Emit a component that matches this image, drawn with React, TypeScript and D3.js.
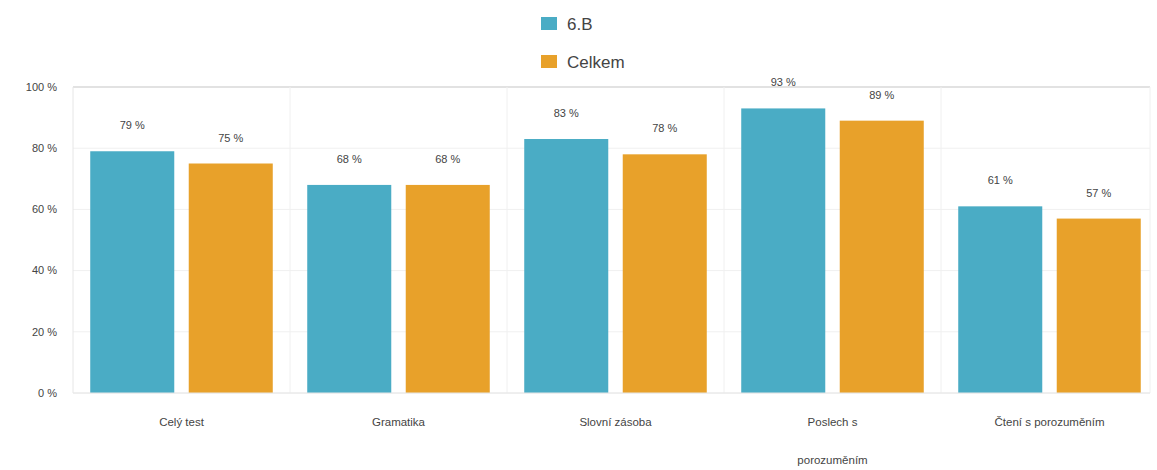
import React from "react";
import * as d3 from "d3";

const categories: string[][] = [
  ["Celý test"],
  ["Gramatika"],
  ["Slovní zásoba"],
  ["Poslech s", "porozuměním"],
  ["Čtení s porozuměním"],
];
const seriesNames = ["6.B", "Celkem"];
const values6B = [79, 68, 83, 93, 61];
const valuesCelkem = [75, 68, 78, 89, 57];
const yTicks = [0, 20, 40, 60, 80, 100];
const colors = ["#4aacc5", "#e8a12a"];

export default function App() {
  const W = 1157;
  const H = 470;
  const left = 73;
  const right = 1158;
  const frameRight = 1150;
  const top = 87;
  const bottom = 393;
  const x0 = d3
    .scaleBand<number>()
    .domain(categories.map((_, i) => i))
    .range([left, right])
    .paddingInner(0)
    .paddingOuter(0);
  const x1 = d3
    .scaleBand<number>()
    .domain([0, 1])
    .range([0, x0.bandwidth()])
    .paddingInner(0.147)
    .paddingOuter(0.175);
  const y = d3.scaleLinear().domain([0, 100]).range([bottom, top]);
  const series = [values6B, valuesCelkem];
  const font = "'Liberation Sans', Arial, sans-serif";

  return (
    <svg
      width={W}
      height={H}
      style={{ position: "absolute", left: 0, top: 0, background: "#fff" }}
      fontFamily={font}
    >
      {/* horizontal grid */}
      {yTicks.map((t) => (
        <line
          key={"h" + t}
          x1={left}
          x2={frameRight}
          y1={y(t)}
          y2={y(t)}
          stroke={t === 100 ? "#e2e2e2" : "#f0f0f0"}
          strokeWidth={t === 100 ? 2 : 1}
        />
      ))}
      {/* vertical grid */}
      {d3.range(categories.length + 1).map((i) => {
        const xv = i === categories.length ? frameRight : x0(i)!;
        return (
          <line
            key={"v" + i}
            x1={xv}
            x2={xv}
            y1={top}
            y2={bottom}
            stroke={i === 0 ? "#e6e6e6" : "#f0f0f0"}
            strokeWidth={1}
          />
        );
      })}
      {/* y labels */}
      {yTicks.map((t) => (
        <text
          key={"yl" + t}
          x={57}
          y={y(t)}
          dy="0.35em"
          textAnchor="end"
          fontSize={11}
          fill="#444"
        >
          {t} %
        </text>
      ))}
      {/* bars */}
      {series.map((vals, s) =>
        vals.map((v, i) => {
          const bx = x0(i)! + x1(s)!;
          return (
            <g key={`b${s}-${i}`}>
              <rect
                x={bx}
                y={y(v)}
                width={x1.bandwidth()}
                height={bottom - y(v)}
                fill={colors[s]}
              />
              <text
                x={bx + x1.bandwidth() / 2}
                y={y(v) - 22}
                textAnchor="middle"
                fontSize={11}
                fill="#444"
              >
                {v} %
              </text>
            </g>
          );
        })
      )}
      {/* bottom axis line */}
      <line x1={left} x2={frameRight} y1={bottom} y2={bottom} stroke="#e6e6e6" strokeWidth={1} />
      {/* x labels */}
      {categories.map((lines, i) => (
        <text
          key={"xl" + i}
          x={x0(i)! + x0.bandwidth() / 2}
          y={426}
          textAnchor="middle"
          fontSize={11.5}
          fill="#444"
        >
          {lines.map((ln, j) => (
            <tspan key={j} x={x0(i)! + x0.bandwidth() / 2} dy={j === 0 ? 0 : 38}>
              {ln}
            </tspan>
          ))}
        </text>
      ))}
      {/* legend */}
      {seriesNames.map((n, s) => (
        <g key={"lg" + s} transform={`translate(541, ${17 + s * 38})`}>
          <rect x={0} y={0} width={16} height={13} fill={colors[s]} />
          <text x={26} y={7} dy="0.35em" fontSize={17} fill="#444">
            {n}
          </text>
        </g>
      ))}
    </svg>
  );
}
